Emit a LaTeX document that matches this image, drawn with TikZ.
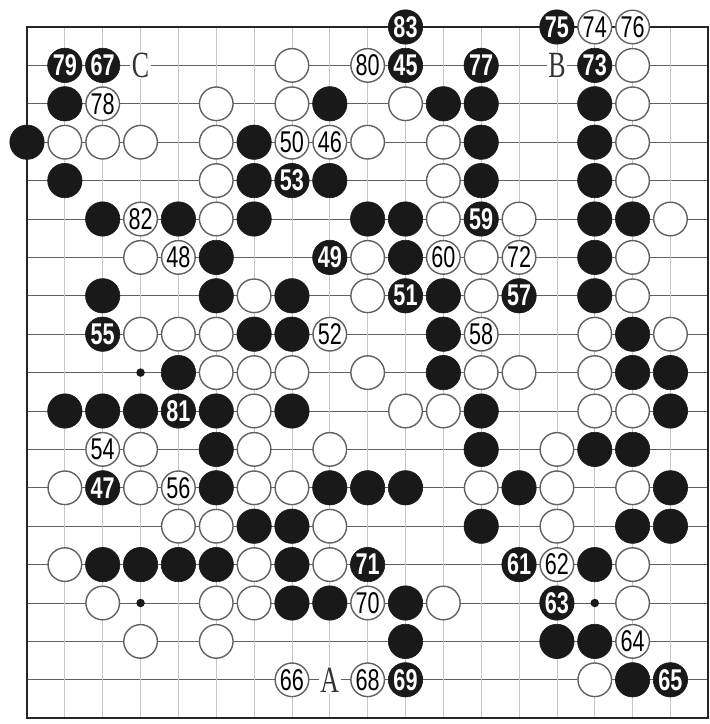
\documentclass[tikz,border=0pt]{standalone}
\usepackage{fontspec}
\newfontfamily\numfont[FakeStretch=0.72]{Liberation Sans}
\newfontfamily\letfont[FakeStretch=0.7]{Liberation Serif}
\begin{document}
\begin{tikzpicture}[x=37.85pt,y=-38.4pt,
  hline/.style={draw=black!62, line width=1pt},
  vline/.style={draw=black!22, line width=0.7pt},
  edgeline/.style={draw=black!85, line width=2pt},
  hoshi/.style={circle, fill=black!90, inner sep=0pt, minimum size=8.5pt},
  bstone/.style={circle, fill=black!90, draw=black!90, line width=0.6pt, minimum size=34.4pt, inner sep=0pt},
  wstone/.style={circle, fill=white, draw=black!62, line width=1.4pt, minimum size=33.6pt, inner sep=0pt},
  bnum/.style={bstone, text=white, font=\numfont\bfseries\fontsize{30}{30}\selectfont},
  wnum/.style={wstone, text=black, font=\numfont\fontsize{30}{30}\selectfont},
  lab/.style={fill=white, inner sep=1.5pt, text=black!80, font=\letfont\fontsize{37}{37}\selectfont}
]
\useasboundingbox (-0.7133,-0.7031) rectangle (18.0185,18.151);
% grid
\foreach \r in {1,...,17} \draw[hline] (0,\r) -- (18,\r);
\foreach \c in {1,...,17} \draw[vline] (\c,0) -- (\c,18);
\draw[edgeline] (0,0) rectangle (18,18);
% star points
\node[hoshi] (h1) at (3,9) {};
\node[hoshi] (h2) at (3,15) {};
\node[hoshi] (h3) at (15,15) {};
% black stones
\foreach \c/\r in {
  1/2, 8/2, 11/2, 12/2, 15/2,
  0/3, 6/3, 12/3, 15/3,
  1/4, 6/4, 8/4, 12/4, 15/4,
  2/5, 4/5, 6/5, 9/5, 10/5, 15/5, 16/5,
  5/6, 10/6, 15/6,
  2/7, 5/7, 7/7, 11/7, 15/7,
  6/8, 7/8, 11/8, 16/8,
  4/9, 11/9, 16/9, 17/9,
  1/10, 2/10, 3/10, 5/10, 7/10, 12/10, 17/10,
  5/11, 12/11, 15/11, 16/11,
  5/12, 8/12, 9/12, 10/12, 13/12, 17/12,
  6/13, 7/13, 12/13, 16/13, 17/13,
  2/14, 3/14, 4/14, 5/14, 7/14, 15/14,
  7/15, 8/15, 10/15,
  10/16, 14/16, 15/16,
  16/17}
  \node[bstone] (b\c-\r) at (\c,\r) {};
% white stones
\foreach \c/\r in {
  7/1, 16/1,
  5/2, 7/2, 10/2, 16/2,
  1/3, 2/3, 3/3, 5/3, 9/3, 11/3, 16/3,
  5/4, 11/4, 16/4,
  5/5, 11/5, 13/5, 17/5,
  3/6, 9/6, 12/6, 16/6,
  6/7, 9/7, 12/7, 16/7,
  3/8, 4/8, 5/8, 15/8, 17/8,
  5/9, 6/9, 7/9, 9/9, 12/9, 13/9, 15/9,
  6/10, 10/10, 11/10, 15/10, 16/10,
  3/11, 6/11, 8/11, 14/11,
  1/12, 3/12, 6/12, 7/12, 12/12, 14/12, 16/12,
  4/13, 5/13, 8/13, 14/13,
  1/14, 6/14, 8/14, 16/14,
  2/15, 5/15, 6/15, 11/15, 16/15,
  3/16, 5/16,
  15/17}
  \node[wstone] (w\c-\r) at (\c,\r) {};
% numbered black stones
\foreach \c/\r/\n in {
  10/0/83, 14/0/75, 1/1/79, 2/1/67, 10/1/45, 12/1/77, 15/1/73,
  7/4/53, 12/5/59, 8/6/49, 10/7/51, 13/7/57, 2/8/55, 4/10/81,
  2/12/47, 9/14/71, 13/14/61, 14/15/63, 10/17/69, 17/17/65}
  \node[bnum] (m\n) at (\c,\r) {\n};
% numbered white stones
\foreach \c/\r/\n in {
  15/0/74, 16/0/76, 9/1/80, 2/2/78, 7/3/50, 8/3/46, 3/5/82,
  4/6/48, 11/6/60, 13/6/72, 8/8/52, 12/8/58, 2/11/54, 4/12/56,
  14/14/62, 9/15/70, 16/16/64, 7/17/66, 9/17/68}
  \node[wnum] (m\n) at (\c,\r) {\n};
% letters
\node[lab] (lC) at (3,1) {C};
\node[lab] (lB) at (14,1) {B};
\node[lab] (lA) at (8,17) {A};
\end{tikzpicture}
\end{document}
